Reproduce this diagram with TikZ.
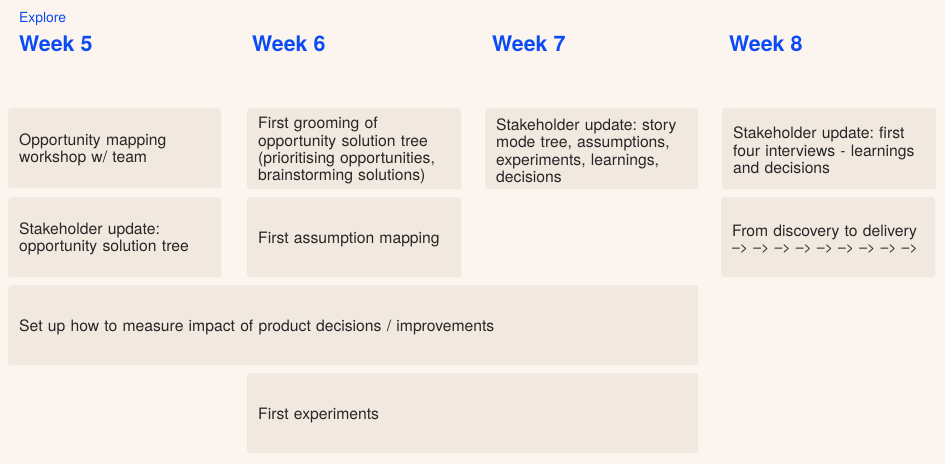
\documentclass[tikz,border=0pt]{standalone}
\usepackage{fontspec}
\setmainfont{TeX Gyre Heros}
\frenchspacing
\begin{document}
\definecolor{pagebg}{HTML}{FCF4EE}
\definecolor{cardbg}{HTML}{F1E8E0}
\definecolor{headblue}{HTML}{0A4BF5}
\definecolor{cardtext}{HTML}{262626}
\begin{tikzpicture}[x=1pt,y=-1pt,
  card/.style={fill=cardbg, draw=none, rounded corners=3pt, anchor=north west,
    inner xsep=11pt, inner ysep=0pt, align=left, text=cardtext,
    font=\fontsize{15.7}{17.4}\selectfont,
    execute at begin node={\rule{0pt}{15.5pt}}},
  weekhead/.style={anchor=base west, inner sep=0pt, text=headblue,
    font=\fontsize{21.4}{24}\selectfont\bfseries},
  phase/.style={anchor=base west, inner sep=0pt, text=headblue,
    font=\fontsize{13.9}{15}\selectfont}]
  % page
  \fill[pagebg] (0,0) rectangle (945,464);
  \useasboundingbox (0,0) rectangle (945,464);

  % headings
  \node[phase] (explore) at (19,22) {Explore};
  \node[weekhead] (w5) at (19,51) {Week 5};
  \node[weekhead] (w6) at (252,51) {Week 6};
  \node[weekhead] (w7) at (492,51) {Week 7};
  \node[weekhead] (w8) at (729,51) {Week 8};

  % week 5
  \node[card, minimum width=213pt, minimum height=80pt, text width=191pt] (c1) at (8,108)
    {Opportunity mapping\\workshop w/ team};
  \node[card, minimum width=213pt, minimum height=80pt, text width=191pt] (c2) at (8,197)
    {Stakeholder update:\\opportunity solution tree};

  % week 6
  \node[card, minimum width=214pt, minimum height=81pt, text width=192pt] (c3) at (247,108)
    {First grooming of\\opportunity solution tree\\(prioritising opportunities,\\brainstorming solutions)};
  \node[card, minimum width=214pt, minimum height=80pt, text width=192pt] (c4) at (247,197)
    {First assumption mapping};

  % week 7
  \node[card, minimum width=213pt, minimum height=81pt, text width=191pt] (c5) at (485,108)
    {Stakeholder update: story\\mode tree, assumptions,\\experiments, learnings,\\decisions};

  % week 8
  \node[card, minimum width=214pt, minimum height=81pt, text width=192pt] (c6) at (722,108)
    {Stakeholder update: first\\four interviews - learnings\\and decisions};
  \node[card, minimum width=214pt, minimum height=80pt, text width=192pt] (c7) at (721,197)
    {From discovery to delivery\\[-1pt]{\fontsize{14}{16}\selectfont \textendash> \textendash> \textendash> \textendash> \textendash> \textendash> \textendash> \textendash> \textendash>}};

  % spanning cards
  \node[card, minimum width=690pt, minimum height=80pt, text width=668pt] (c8) at (8,285)
    {Set up how to measure impact of product decisions / improvements};
  \node[card, minimum width=451pt, minimum height=80pt, text width=429pt] (c9) at (247,373)
    {First experiments};
\end{tikzpicture}
\end{document}
